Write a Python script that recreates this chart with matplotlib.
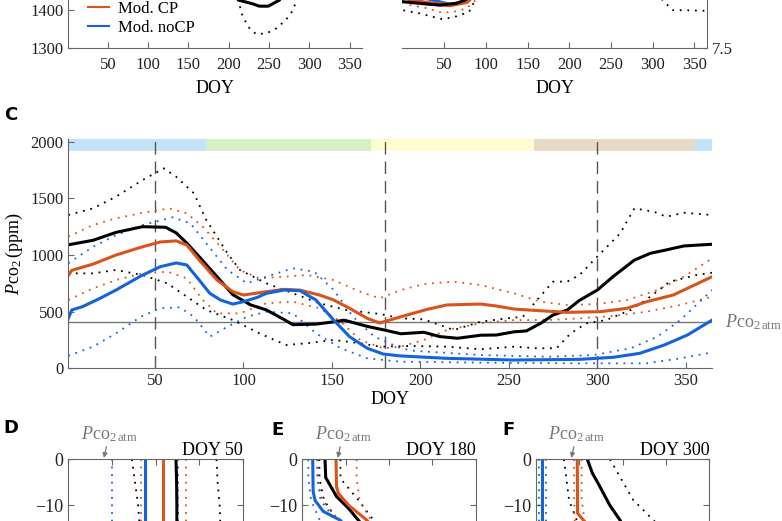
import numpy as np
import matplotlib
matplotlib.use("Agg")
import matplotlib.pyplot as plt
from matplotlib.lines import Line2D

plt.rcParams['font.family'] = ['Liberation Serif', 'DejaVu Serif']
plt.rcParams['mathtext.fontset'] = 'custom'
plt.rcParams['mathtext.rm'] = 'Liberation Serif'
plt.rcParams['mathtext.it'] = 'Liberation Serif:italic'
plt.rcParams['font.size'] = 12
plt.rcParams['axes.edgecolor'] = '#666666'
plt.rcParams['xtick.color'] = '#666666'
plt.rcParams['ytick.color'] = '#666666'
plt.rcParams['xtick.labelcolor'] = '#222222'
plt.rcParams['ytick.labelcolor'] = '#222222'

BLACK = '#000000'
ORANGE = '#d9531a'
BLUE = '#1463dc'
GREY = '#777777'

# ---------------- Panel A (top strip, Pco2 obs) ----------------
a_obs_doy = [200, 212, 230, 238, 249, 257, 263, 275]
a_obs = [1470, 1426, 1416, 1410, 1410, 1419, 1426, 1470]
a_obs_lo_doy = [205, 212, 216, 224, 234, 247, 259, 271, 280, 284, 290]
a_obs_lo = [1480, 1426, 1391, 1356, 1337, 1339, 1352, 1374, 1400, 1426, 1480]

# ---------------- Panel B (top strip, pH) ----------------
b_obs_doy = [1, 20, 45, 65, 75, 85]
b_obs = [7.686, 7.680, 7.673, 7.680, 7.693, 7.72]
b_cp_doy = [1, 9, 30, 57, 77, 88]
b_cp = [7.72, 7.693, 7.680, 7.673, 7.686, 7.72]
b_nocp_doy = [1, 40, 57, 75, 85]
b_nocp = [7.72, 7.69, 7.676, 7.685, 7.72]
b_obs_lo_doy = [1, 20, 48, 65, 80, 87, 95]
b_obs_lo = [7.652, 7.640, 7.616, 7.628, 7.646, 7.693, 7.72]
b_obs_lo2_doy = [305, 314, 324, 340, 364]
b_obs_lo2 = [7.72, 7.686, 7.653, 7.652, 7.650]
b_cp_lo_doy = [1, 9, 30, 48, 65, 77, 88, 95]
b_cp_lo = [7.69, 7.673, 7.660, 7.642, 7.648, 7.660, 7.693, 7.72]
b_nocp_lo_doy = [40, 53, 65, 77, 85]
b_nocp_lo = [7.70, 7.673, 7.676, 7.682, 7.70]

# ---------------- Panel C (main seasonal Pco2) ----------------
obs_doy = [1, 15, 28, 43, 56, 62, 68, 75, 85, 94, 104, 113, 123, 128, 141, 151, 157, 170, 179,
           189, 202, 211, 221, 234, 243, 253, 260, 268, 275, 283, 290, 300, 309, 321, 330, 339, 349, 365]
obs = [1090, 1130, 1200, 1250, 1245, 1195, 1105, 985, 810, 650, 560, 515, 430, 385, 390, 410, 425, 370, 340,
       305, 318, 280, 265, 292, 294, 322, 330, 397, 470, 514, 600, 690, 810, 955, 1015, 1045, 1080, 1095]
cp_doy = [1, 3, 15, 28, 43, 53, 62, 68, 75, 85, 94, 100, 113, 123, 132, 143, 151, 160, 170, 177,
          189, 204, 215, 234, 243, 253, 268, 283, 302, 317, 328, 343, 365]
cp = [820, 865, 920, 1000, 1073, 1115, 1125, 1088, 956, 780, 676, 647, 676, 697, 690, 647, 603, 530, 441, 400,
      455, 521, 559, 567, 550, 523, 508, 494, 500, 530, 588, 647, 809]
nocp_doy = [1, 3, 9, 19, 28, 42, 53, 62, 68, 75, 81, 87, 94, 100, 108, 113, 123, 132, 141, 151, 160, 170,
            179, 189, 215, 253, 290, 309, 324, 338, 351, 365]
nocp = [441, 515, 544, 618, 691, 815, 897, 930, 912, 779, 662, 603, 567, 588, 627, 662, 691, 685, 603, 426, 279, 177,
        126, 109, 88, 73, 79, 97, 132, 206, 294, 426]

obs_hi_doy = [1, 15, 28, 43, 55, 62, 72, 79, 91, 98, 113, 128, 143, 158, 177, 189, 202, 219, 234, 249, 258, 266,
              275, 283, 290, 300, 313, 321, 332, 339, 349, 365]
obs_hi = [1353, 1412, 1515, 1662, 1765, 1691, 1545, 1309, 1015, 868, 750, 662, 574, 515, 480, 441, 432, 338, 411, 441,
          455, 603, 765, 765, 823, 985, 1191, 1412, 1382, 1338, 1373, 1353]
obs_lo_doy = [1, 15, 28, 43, 57, 68, 79, 94, 109, 124, 136, 151, 166, 177, 196, 215, 234, 253, 266, 277, 285, 294,
              305, 319, 330, 341, 356, 365]
obs_lo = [838, 838, 868, 823, 750, 632, 515, 426, 309, 206, 221, 250, 221, 191, 197, 191, 168, 191, 177, 177, 309, 397,
          426, 515, 632, 765, 823, 844]
cp_hi_doy = [1, 15, 28, 43, 58, 68, 77, 87, 98, 109, 123, 136, 151, 166, 177, 189, 202, 219, 234, 253, 268, 283, 300,
             317, 334, 349, 365]
cp_hi = [1162, 1265, 1324, 1373, 1412, 1368, 1250, 1073, 868, 794, 809, 823, 779, 676, 618, 691, 744, 765, 735, 662,
         588, 559, 567, 603, 691, 809, 971]
cp_lo_doy = [1, 15, 28, 43, 57, 68, 77, 85, 98, 113, 128, 143, 155, 166, 179, 189, 202, 215, 234, 253, 272, 290, 309,
             328, 347, 365]
cp_lo = [603, 706, 779, 838, 853, 794, 603, 485, 485, 574, 588, 530, 411, 250, 177, 191, 250, 338, 397, 426, 426, 441,
         462, 500, 559, 632]
nocp_hi_doy = [1, 15, 28, 43, 60, 70, 79, 91, 102, 113, 128, 140, 151, 162, 174, 189, 196, 234, 272, 298, 319, 334,
               347, 365]
nocp_hi = [927, 1073, 1176, 1265, 1333, 1280, 1103, 868, 750, 809, 883, 853, 691, 455, 279, 177, 155, 117, 102, 117,
           177, 279, 426, 691]
nocp_lo_doy = [1, 15, 28, 42, 53, 64, 72, 81, 91, 102, 113, 128, 141, 155, 170, 189, 234, 290, 328, 347, 364]
nocp_lo = [110, 191, 309, 455, 530, 538, 455, 279, 367, 455, 500, 485, 309, 177, 88, 58, 50, 44, 44, 88, 138]

pco2_atm = 405
season_start = [1, 79, 172, 264, 355]
season_end = [79, 172, 264, 355, 365]
season_colors = ['#c2e3f8', '#d6efc6', '#fdfdcf', '#e7dbc3', '#c2e3f8']
profile_doys = [50, 180, 300]

# ---------------- Panels D-F (depth profiles) ----------------
d_depth = [0, -5, -10, -15]
d_obs = [1235, 1242, 1245, 1245]
d_obs_lo = [730, 765, 800, 820]
d_obs_hi = [1700, 1712, 1735, 1745]
d_cp = [1090, 1090, 1090, 1090]
d_cp_lo = [834, 834, 834, 834]
d_cp_hi = [1350, 1350, 1350, 1350]
d_nocp = [880, 880, 880, 880]
d_nocp_lo = [505, 505, 505, 505]
d_nocp_hi = [1262, 1262, 1262, 1262]

e_nocp_depth = [0, -7, -9, -11.4, -13.3, -15]
e_nocp = [120, 125, 147, 242, 435, 520]
e_obs_depth = [0, -4, -8.2, -10.7, -13.3, -15]
e_obs = [262, 270, 397, 531, 646, 720]
e_cp_depth = [0, -6, -7.4, -10, -13.3, -15]
e_cp = [389, 395, 415, 531, 743, 820]
e_env_depth = [0, -4.2, -8.9, -13.3, -15]
e_cp_hi = [627, 627, 660, 790, 830]
e_cp_lo = [170, 172, 230, 420, 480]
e_obs_hi = [440, 440, 646, 820, 880]
e_obs_lo = [196, 198, 250, 400, 450]
e_nocp_hi = [178, 178, 210, 380, 440]
e_nocp_lo = [69, 70, 100, 200, 260]

f_obs_depth = [0, -3, -6, -10, -13.3, -15]
f_obs = [592, 650, 738, 850, 969, 1020]
f_env_depth = [0, -8.9, -13.3, -15]
f_obs_hi = [853, 1122, 1353, 1450]
f_obs_lo = [323, 381, 469, 500]
f_cp_depth = [0, -11.8, -13.3, -15]
f_cp = [476, 480, 546, 600]
f_cp_lo = [438, 440, 445, 460]
f_cp_hi = [527, 527, 560, 600]
f_nocp = [73, 73, 73, 73]
f_nocp_lo = [35, 35, 35, 35]
f_nocp_hi = [115, 115, 115, 115]

W, H = 782, 521
fig = plt.figure(figsize=(W / 100, H / 100), dpi=100)


def ax_px(left, right, bottom_px, height_px):
    return fig.add_axes([left / W, (H - bottom_px) / H, (right - left) / W, height_px / H])


SOLID_LW = 2.2
DOT = dict(linestyle=(0, (1, 3.2)), lw=1.3)


def style_ticks(ax, pad=3.5):
    ax.tick_params(direction='in', length=4, width=0.8, labelsize=12, pad=pad)


# Panel A
axA = ax_px(68.3, 361.7, 48.3, 191.5)
axA.set_xlim(1, 365)
axA.set_ylim(1300, 1800)
axA.plot(a_obs_doy, a_obs, color=BLACK, lw=SOLID_LW)
axA.plot(a_obs_lo_doy, a_obs_lo, color=BLACK, **DOT)
axA.spines[['top', 'right']].set_visible(False)
axA.set_xticks([50, 100, 150, 200, 250, 300, 350])
axA.set_yticks([1300, 1400])
style_ticks(axA)
axA.tick_params(axis='x', pad=6)
axA.set_xlabel('DOY', fontsize=13, labelpad=5)
handles = [Line2D([], [], color=ORANGE, lw=1.5), Line2D([], [], color=BLUE, lw=1.5)]
axA.legend(handles, ['Mod. CP', 'Mod. noCP'], loc='lower left', frameon=False,
           bbox_to_anchor=(80 / W, (H - 44) / H), bbox_transform=fig.transFigure, borderpad=0,
           handlelength=1.25, handletextpad=0.55, labelspacing=0.15, fontsize=12)

# Panel B
axB = ax_px(402.5, 706.7, 48.3, 200)
axB.set_xlim(0, 365)
axB.set_ylim(7.5, 8.3)
axB.plot(b_obs_lo_doy, b_obs_lo, color=BLACK, **DOT)
axB.plot(b_obs_lo2_doy, b_obs_lo2, color=BLACK, **DOT)
axB.plot(b_cp_lo_doy, b_cp_lo, color=ORANGE, **DOT)
axB.plot(b_nocp_lo_doy, b_nocp_lo, color=BLUE, **DOT)
axB.plot(b_nocp_doy, b_nocp, color=BLUE, lw=SOLID_LW)
axB.plot(b_cp_doy, b_cp, color=ORANGE, lw=SOLID_LW + 1)
axB.plot(b_obs_doy, b_obs, color=BLACK, lw=SOLID_LW)
axB.spines[['top', 'left']].set_visible(False)
axB.yaxis.tick_right()
axB.set_xticks([50, 100, 150, 200, 250, 300, 350])
axB.set_yticks([7.5])
style_ticks(axB)
axB.tick_params(axis='x', pad=6)
axB.set_xlabel('DOY', fontsize=13, labelpad=5)

# Panel C
axC = ax_px(68.3, 712.2, 368.3, 229.4)
axC.set_xlim(1, 365)
axC.set_ylim(0, 2025)
for s, e, c in zip(season_start, season_end, season_colors):
    axC.broken_barh([(s, e - s)], (1920, 105), facecolor=c, edgecolor='none', zorder=0)
axC.axhline(pco2_atm, color=GREY, lw=1.0, zorder=1)
for d in profile_doys:
    axC.axvline(d, color='#555555', lw=1.0, linestyle=(0, (9, 5)), zorder=1)
axC.plot(obs_hi_doy, obs_hi, color=BLACK, **DOT)
axC.plot(obs_lo_doy, obs_lo, color=BLACK, **DOT)
axC.plot(cp_hi_doy, cp_hi, color=ORANGE, **DOT)
axC.plot(cp_lo_doy, cp_lo, color=ORANGE, **DOT)
axC.plot(nocp_hi_doy, nocp_hi, color=BLUE, **DOT)
axC.plot(nocp_lo_doy, nocp_lo, color=BLUE, **DOT)
axC.plot(obs_doy, obs, color=BLACK, lw=SOLID_LW)
axC.plot(cp_doy, cp, color=ORANGE, lw=SOLID_LW)
axC.plot(nocp_doy, nocp, color=BLUE, lw=SOLID_LW)
axC.spines[['top', 'right']].set_visible(False)
axC.set_xticks([50, 100, 150, 200, 250, 300, 350])
axC.set_yticks([0, 500, 1000, 1500, 2000])
style_ticks(axC)
axC.set_xlabel('DOY', fontsize=13, labelpad=1)
axC.set_ylabel(r'$P\mathrm{co}_2\,$(ppm)', fontsize=13, labelpad=4)
axC.text(1.02, pco2_atm, r'$P\mathrm{co}_{2\,\mathrm{atm}}$', color=GREY, fontsize=13,
         transform=axC.get_yaxis_transform(), va='center', ha='left')

# Panels D-F
prof_specs = [
    (68.3, 242.7, 'DOY 50',
     [(d_depth, d_obs_lo, BLACK, 'dot'), (d_depth, d_obs_hi, BLACK, 'dot'),
      (d_depth, d_cp_lo, ORANGE, 'dot'), (d_depth, d_cp_hi, ORANGE, 'dot'),
      (d_depth, d_nocp_lo, BLUE, 'dot'), (d_depth, d_nocp_hi, BLUE, 'dot'),
      (d_depth, d_obs, BLACK, 'solid'), (d_depth, d_cp, ORANGE, 'solid'), (d_depth, d_nocp, BLUE, 'solid')]),
    (302.3, 475.7, 'DOY 180',
     [(e_env_depth, e_obs_lo, BLACK, 'dot'), (e_env_depth, e_obs_hi, BLACK, 'dot'),
      (e_env_depth, e_cp_lo, ORANGE, 'dot'), (e_env_depth, e_cp_hi, ORANGE, 'dot'),
      (e_env_depth, e_nocp_lo, BLUE, 'dot'), (e_env_depth, e_nocp_hi, BLUE, 'dot'),
      (e_obs_depth, e_obs, BLACK, 'solid'), (e_cp_depth, e_cp, ORANGE, 'solid'),
      (e_nocp_depth, e_nocp, BLUE, 'solid')]),
    (536.0, 709.3, 'DOY 300',
     [(f_env_depth, f_obs_lo, BLACK, 'dot'), (f_env_depth, f_obs_hi, BLACK, 'dot'),
      (f_env_depth, f_cp_lo, ORANGE, 'dot'), (f_env_depth, f_cp_hi, ORANGE, 'dot'),
      (f_env_depth, f_nocp_lo, BLUE, 'dot'), (f_env_depth, f_nocp_hi, BLUE, 'dot'),
      (f_obs_depth, f_obs, BLACK, 'solid'), (f_cp_depth, f_cp, ORANGE, 'solid'),
      (f_env_depth, f_nocp, BLUE, 'solid')]),
]
for left, right, title, series in prof_specs:
    ax = ax_px(left, right, 459.3 + 137.1, 137.1)
    ax.set_xlim(0, 2000)
    ax.set_ylim(-30, 0)
    for dep, val, col, kind in series:
        if kind == 'dot':
            ax.plot(val, dep, color=col, **DOT)
        else:
            ax.plot(val, dep, color=col, lw=SOLID_LW)
    ax.set_xticks([0, 500, 1000, 1500, 2000])
    ax.set_yticks([0, -10])
    ax.tick_params(direction='in', length=4, width=0.8, labelsize=13, top=True, right=True,
                   labelbottom=False)
    ax.set_title(title, loc='right', pad=3, fontsize=13)
    ax.annotate(r'$P\mathrm{co}_{2\,\mathrm{atm}}$', xy=(pco2_atm, 0), xytext=(4, 11),
                textcoords='offset points', ha='center', va='bottom', color=GREY, fontsize=13,
                annotation_clip=False,
                arrowprops=dict(arrowstyle='-|>', color=GREY, lw=0.9, mutation_scale=7,
                                shrinkA=0, shrinkB=1))

# Panel letters
for lbl, x, y in [('C', 4, 115), ('D', 3, 428), ('E', 271, 430), ('F', 502, 430)]:
    fig.text(x / W, (H - y) / H, lbl, fontsize=13, fontweight='bold', family='DejaVu Sans',
             va='center', ha='left')

fig.savefig('out.png', dpi=100)
